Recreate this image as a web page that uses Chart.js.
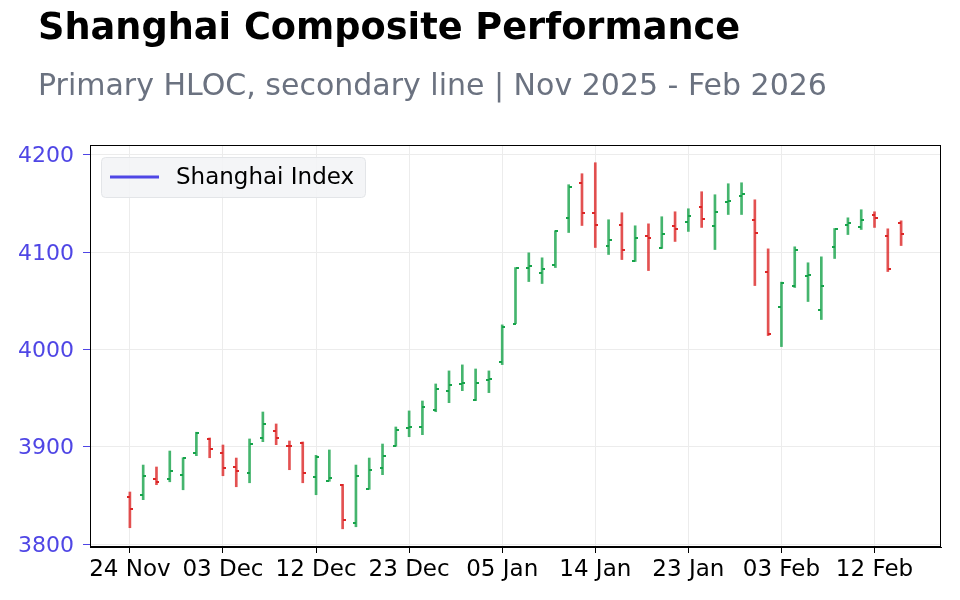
<!DOCTYPE html>
<html>
<head>
<meta charset="utf-8">
<script src="https://cdn.jsdelivr.net/npm/chart.js@4.4.0/dist/chart.umd.min.js"></script>
<style>
  body { margin: 0; background: #fff; font-family: 'DejaVu Sans', sans-serif; }
  #wrap { position: relative; width: 960px; height: 600px; }
  canvas { position: absolute; left: 0; top: 0; }
  #title { position: absolute; left: 38px; top: 9px; font-size: 36.7px; line-height: 36px; font-weight: bold; color: #000; white-space: nowrap; }
  #subtitle { position: absolute; left: 38px; top: 70px; font-size: 30px; line-height: 30px; color: #6b7280; white-space: nowrap; }
</style>
</head>
<body>
<div id="wrap">
  <canvas id="chart" width="960" height="600"></canvas>
  <div id="title">Shanghai Composite Performance</div>
  <div id="subtitle">Primary HLOC, secondary line | Nov 2025 - Feb 2026</div>
</div>
<script>
// trading days, Nov 2025 - Feb 2026
const dates = [
  '24 Nov', '25 Nov', '26 Nov', '27 Nov', '28 Nov',
  '01 Dec', '02 Dec', '03 Dec', '04 Dec', '05 Dec',
  '08 Dec', '09 Dec', '10 Dec', '11 Dec', '12 Dec',
  '15 Dec', '16 Dec', '17 Dec', '18 Dec', '19 Dec',
  '22 Dec', '23 Dec', '24 Dec', '25 Dec', '26 Dec',
  '29 Dec', '30 Dec', '31 Dec', '05 Jan', '06 Jan',
  '07 Jan', '08 Jan', '09 Jan', '12 Jan', '13 Jan',
  '14 Jan', '15 Jan', '16 Jan', '19 Jan', '20 Jan',
  '21 Jan', '22 Jan', '23 Jan', '26 Jan', '27 Jan',
  '28 Jan', '29 Jan', '30 Jan', '02 Feb', '03 Feb',
  '04 Feb', '05 Feb', '06 Feb', '09 Feb', '10 Feb',
  '11 Feb', '12 Feb', '13 Feb', '16 Feb'
];
const opens = [
  3848.6, 3850.7, 3867.1, 3867.1, 3871.3, 3893.9, 3908.3, 3893.9, 3879.5, 3873.3,
  3909.3, 3916.5, 3901.1, 3904.2, 3869.2, 3865.1, 3861.0, 3821.9, 3856.9, 3878.5,
  3901.1, 3919.6, 3920.6, 3938.1, 3957.6, 3964.8, 3948.4, 3968.9, 3987.5, 4026.5,
  4084.1, 4078.0, 4087.2, 4135.5, 4170.5, 4139.7, 4106.7, 4127.3, 4091.3, 4117.0,
  4103.7, 4126.3, 4130.4, 4145.8, 4126.3, 4151.0, 4157.2, 4132.5, 4080.0, 4044.0,
  4065.6, 4075.9, 4040.9, 4104.7, 4128.3, 4125.3, 4137.6, 4117.0, 4129.4
];
const highs = [
  3853.5, 3881.2, 3879.2, 3895.6, 3888.7, 3914.9, 3909.0, 3901.8, 3888.4, 3908.0,
  3935.7, 3923.4, 3905.9, 3904.9, 3891.2, 3896.7, 3861.4, 3881.2, 3888.4, 3902.8,
  3920.3, 3936.8, 3947.0, 3964.5, 3977.9, 3984.1, 3979.9, 3977.9, 4025.2, 4084.1,
  4099.2, 4094.1, 4121.9, 4169.2, 4180.5, 4191.8, 4133.2, 4140.4, 4127.0, 4129.0,
  4136.3, 4141.4, 4144.5, 4162.0, 4158.9, 4170.2, 4171.2, 4153.7, 4103.3, 4069.1,
  4105.4, 4089.0, 4095.1, 4124.2, 4135.2, 4143.5, 4141.4, 4123.9, 4132.1
];
const lows = [
  3816.8, 3845.6, 3861.0, 3864.0, 3855.8, 3890.8, 3888.7, 3870.2, 3858.9, 3863.0,
  3905.2, 3902.1, 3876.4, 3863.0, 3850.7, 3864.5, 3815.7, 3817.8, 3856.2, 3871.3,
  3900.5, 3910.3, 3912.4, 3936.0, 3945.3, 3957.6, 3947.4, 3955.6, 3984.4, 4026.5,
  4069.7, 4067.7, 4084.1, 4120.1, 4127.3, 4104.7, 4097.5, 4092.3, 4090.3, 4081.0,
  4103.7, 4110.9, 4121.2, 4125.3, 4102.6, 4138.6, 4138.6, 4065.6, 4014.2, 4002.9,
  4063.6, 4049.2, 4030.7, 4093.4, 4118.0, 4123.2, 4125.3, 4080.0, 4106.7
];
const closes = [
  3836.3, 3870.2, 3864.1, 3875.4, 3888.7, 3914.4, 3898.0, 3878.5, 3875.4, 3903.1,
  3923.7, 3909.3, 3900.5, 3873.0, 3889.5, 3867.9, 3824.7, 3870.2, 3876.4, 3890.5,
  3917.5, 3920.6, 3941.2, 3959.7, 3963.8, 3965.9, 3965.9, 3969.2, 4023.5, 4084.1,
  4086.2, 4083.1, 4121.2, 4166.4, 4139.7, 4127.3, 4112.9, 4102.6, 4114.9, 4114.0,
  4118.1, 4123.2, 4136.6, 4133.5, 4140.7, 4152.0, 4159.2, 4119.1, 4016.3, 4068.7,
  4102.6, 4076.9, 4065.6, 4124.2, 4129.4, 4132.5, 4134.5, 4083.1, 4118.1
];
const yTicks = [3800, 3900, 4000, 4100, 4200];
const xTickIndexes = [0, 7, 14, 21, 28, 35, 42, 49, 56];

const upColor = '#16a34a';
const downColor = '#dc2626';
const upLine = 'rgba(22, 163, 74, 0.8)';
const downLine = 'rgba(220, 38, 38, 0.8)';
const lineColor = '#4F46E5';

const isUp = i => closes[i] >= opens[i];

// open/close ticks on each high-low bar
const hlocTicks = {
  id: 'hlocTicks',
  afterDatasetsDraw(chart) {
    const { ctx, scales: { x, y } } = chart;
    ctx.save();
    dates.forEach((d, i) => {
      const px = Math.round(x.getPixelForValue(i));
      ctx.fillStyle = isUp(i) ? upColor : downColor;
      ctx.fillRect(px - 3, Math.round(y.getPixelForValue(opens[i])) - 1, 3, 2);
      ctx.fillRect(px, Math.round(y.getPixelForValue(closes[i])) - 1, 3, 2);
    });
    ctx.restore();
  }
};

// full box round the plot, like matplotlib spines
const frame = {
  id: 'frame',
  afterDraw(chart) {
    const { ctx, chartArea: a } = chart;
    ctx.save();
    ctx.strokeStyle = '#000';
    ctx.lineWidth = 1;
    ctx.strokeRect(a.left + 0.5, a.top + 0.5, a.right - a.left - 1, a.bottom - a.top - 1);
    ctx.restore();
  }
};

// legend box in the upper left of the plot
const legendBox = {
  id: 'legendBox',
  afterDraw(chart) {
    const ds = chart.data.datasets.find(d => d.type === 'line');
    const { ctx, chartArea: a } = chart;
    const x0 = a.left + 11, y0 = a.top + 12, w = 264, h = 40;
    ctx.save();
    ctx.beginPath();
    ctx.roundRect(x0 + 0.5, y0 + 0.5, w, h, 4);
    ctx.fillStyle = 'rgba(243, 244, 246, 0.9)';
    ctx.fill();
    ctx.strokeStyle = '#e3e5e8';
    ctx.lineWidth = 1;
    ctx.stroke();
    ctx.strokeStyle = ds.borderColor;
    ctx.lineWidth = 3;
    ctx.beginPath();
    ctx.moveTo(x0 + 9, y0 + 20);
    ctx.lineTo(x0 + 58, y0 + 20);
    ctx.stroke();
    ctx.fillStyle = '#000';
    ctx.font = '23px "DejaVu Sans"';
    ctx.textBaseline = 'middle';
    ctx.fillText(ds.label, x0 + 75, y0 + 21);
    ctx.restore();
  }
};

const ctx = document.getElementById('chart');
new Chart(ctx, {
  type: 'bar',
  data: {
    datasets: [
      {
        type: 'bar',
        label: 'HLOC',
        data: dates.map((d, i) => ({ x: i, y: [lows[i], highs[i]] })),
        backgroundColor: dates.map((d, i) => isUp(i) ? upLine : downLine),
        barThickness: 2,
        borderWidth: 0
      },
      {
        type: 'line',
        label: 'Shanghai Index',
        data: [],
        borderColor: lineColor,
        borderWidth: 3,
        pointRadius: 0
      }
    ]
  },
  options: {
    responsive: false,
    animation: false,
    devicePixelRatio: 1,
    layout: { padding: { top: 145, right: 19, left: 0, bottom: 0 } },
    plugins: {
      legend: { display: false },
      tooltip: { enabled: false }
    },
    scales: {
      x: {
        type: 'linear',
        min: -3,
        max: 61,
        offset: false,
        grid: { offset: false, color: '#ececec', tickColor: '#000', tickLength: 6 },
        border: { color: '#000' },
        afterBuildTicks: s => { s.ticks = xTickIndexes.map(v => ({ value: v })); },
        afterFit: s => { s.height = 53; },
        ticks: {
          autoSkip: false,
          maxRotation: 0,
          color: '#000',
          padding: 3,
          font: { family: 'DejaVu Sans', size: 23 },
          callback: v => dates[v]
        }
      },
      y: {
        type: 'linear',
        min: 3797,
        max: 4210,
        grid: { color: '#ececec', tickColor: lineColor, tickLength: 7 },
        border: { color: '#000' },
        afterBuildTicks: s => { s.ticks = yTicks.map(v => ({ value: v })); },
        afterFit: s => { s.width = 90; },
        ticks: {
          color: lineColor,
          padding: 9,
          labelOffset: 2,
          font: { family: 'DejaVu Sans', size: 22 },
          callback: v => String(v)
        }
      }
    }
  },
  plugins: [hlocTicks, frame, legendBox]
});
</script>
</body>
</html>
